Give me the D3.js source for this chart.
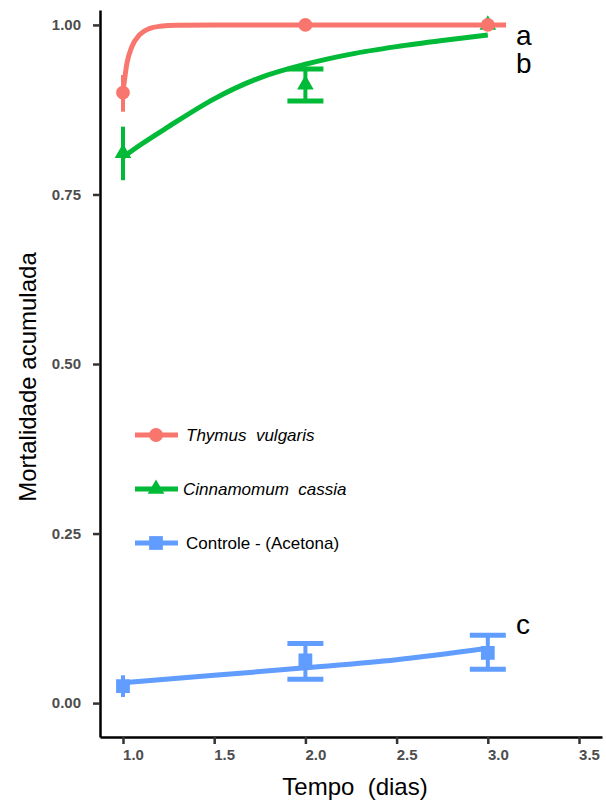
<!DOCTYPE html>
<html>
<head>
<meta charset="utf-8">
<script src="https://cdn.jsdelivr.net/npm/d3@7"></script>
<style>
	body { margin: 0; background: #fff; }
	svg { display: block; font-family: "Liberation Sans", Arial, sans-serif; }
</style>
</head>
<body>
<script>
//observed days
let days = [1, 2, 3];

//means and error bar limits
let thymusMean = [0.900, 1.000, 1.000];
let thymusLow = [0.872, 1.000, 1.000];
let thymusHigh = [0.926, 1.000, 1.000];

let cinnMean = [0.811, 0.912, 1.000];
let cinnLow = [0.771, 0.888, 1.000];
let cinnHigh = [0.850, 0.935, 1.000];

let ctrlMean = [0.025, 0.063, 0.074];
let ctrlLow = [0.009, 0.035, 0.050];
let ctrlHigh = [0.041, 0.088, 0.100];

//fitted curves, points
let thymusFitX = [1.0, 1.022, 1.049, 1.093, 1.148, 1.203, 1.30, 1.5, 2.0, 2.5, 3.0, 3.1];
let thymusFitY = [0.901, 0.944, 0.968, 0.986, 0.995, 0.998, 0.9995, 1, 1, 1, 1, 1];

let cinnFitX = [1.0, 1.1, 1.25, 1.5, 1.75, 2.0, 2.25, 2.5, 2.75, 3.0];
let cinnFitY = [0.805, 0.824, 0.850, 0.891, 0.922, 0.942, 0.957, 0.968, 0.977, 0.985];

let ctrlFitX = [1.0, 1.5, 2.0, 2.5, 3.0];
let ctrlFitY = [0.030, 0.041, 0.052, 0.064, 0.081];

//axis ticks and labels
let xTicks = [1.0, 1.5, 2.0, 2.5, 3.0, 3.5];
let yTicks = [0, 0.25, 0.5, 0.75, 1];
let seriesNames = ["Thymus  vulgaris", "Cinnamomum  cassia", "Controle - (Acetona)"];
let groupLetters = ["a", "b", "c"];

let width = 606;
let height = 808;

let svg = d3.select("body").append("svg")
	.attr("width", width)
	.attr("height", height);

let x = d3.scaleLinear()
	.domain([0.874, 3.626])
	.range([100, 602]);

let y = d3.scaleLinear()
	.domain([-0.05, 1.022])
	.range([737, 10]);

/*
	AXES
*/

let xAxis = d3.axisBottom(x)
	.tickValues(xTicks)
	.tickFormat(d3.format(".1f"))
	.tickSize(7)
	.tickSizeOuter(0)
	.tickPadding(5);

let yAxis = d3.axisLeft(y)
	.tickValues(yTicks)
	.tickFormat(d3.format(".2f"))
	.tickSize(7)
	.tickSizeOuter(0)
	.tickPadding(12);

let xG = svg.append("g")
	.attr("transform", "translate(0, 737)")
	.call(xAxis);

let yG = svg.append("g")
	.attr("transform", "translate(100, 0)")
	.call(yAxis);

[xG, yG].forEach(g => {
	g.select(".domain").attr("stroke", "#000").attr("stroke-width", 2.5);
	g.selectAll(".tick line").attr("stroke", "#333").attr("stroke-width", 2.5);
	g.selectAll(".tick text")
		.attr("font-family", "Liberation Sans, Arial, sans-serif")
		.attr("font-size", 15)
		.attr("font-weight", "bold")
		.attr("fill", "#4d4d4d");
});
xG.selectAll(".tick text").attr("dx", 10);

svg.append("text")
	.attr("x", 355)
	.attr("y", 795)
	.attr("text-anchor", "middle")
	.attr("font-size", 24)
	.attr("fill", "#000")
	.attr("xml:space", "preserve")
	.text("Tempo  (dias)");

svg.append("text")
	.attr("transform", "translate(36, 377) rotate(-90)")
	.attr("text-anchor", "middle")
	.attr("font-size", 24)
	.attr("fill", "#000")
	.text("Mortalidade acumulada");

/*
	SERIES
*/

let series = [
	{name: seriesNames[1], color: "#00BA38", shape: d3.symbolTriangle, size: 120,
		mean: cinnMean, low: cinnLow, high: cinnHigh, fitX: cinnFitX, fitY: cinnFitY},
	{name: seriesNames[2], color: "#619CFF", shape: d3.symbolSquare, size: 190,
		mean: ctrlMean, low: ctrlLow, high: ctrlHigh, fitX: ctrlFitX, fitY: ctrlFitY},
	{name: seriesNames[0], color: "#F8766D", shape: d3.symbolCircle, size: 150,
		mean: thymusMean, low: thymusLow, high: thymusHigh, fitX: thymusFitX, fitY: thymusFitY}
];

let line = d3.line()
	.x(d => x(d[0]))
	.y(d => y(d[1]))
	.curve(d3.curveMonotoneX);

let capHalf = 18;

series.forEach(s => {
	let g = svg.append("g");

	g.append("path")
		.datum(s.fitX.map((v, i) => [v, s.fitY[i]]))
		.attr("fill", "none")
		.attr("stroke", s.color)
		.attr("stroke-width", 5)
		.attr("stroke-linecap", "butt")
		.attr("d", line);

	days.forEach((d, i) => {
		if (s.low[i] === s.high[i]) return;
		g.append("line")
			.attr("x1", x(d)).attr("x2", x(d))
			.attr("y1", y(s.low[i])).attr("y2", y(s.high[i]))
			.attr("stroke", s.color)
			.attr("stroke-width", 4);
		if (i > 0) { //first day has no caps in the picture
			[s.low[i], s.high[i]].forEach(v => {
				g.append("line")
					.attr("x1", x(d) - capHalf).attr("x2", x(d) + capHalf)
					.attr("y1", y(v)).attr("y2", y(v))
					.attr("stroke", s.color)
					.attr("stroke-width", 5);
			});
		}
	});

	g.selectAll(".pt")
		.data(days)
		.join("path")
		.attr("transform", (d, i) => `translate(${x(d)}, ${y(s.mean[i])})`)
		.attr("d", d3.symbol().type(s.shape).size(s.size))
		.attr("fill", s.color);
});

/*
	LETTERS
*/

let letterBase = [45, 73, 634];
groupLetters.forEach((t, i) => {
	svg.append("text")
		.attr("x", 516)
		.attr("y", letterBase[i])
		.attr("font-size", 28)
		.attr("fill", "#000")
		.text(t);
});

/*
	LEGEND
*/

let legendOrder = [series[2], series[0], series[1]];
let legend = svg.append("g")
	.attr("transform", "translate(135, 435)");

legendOrder.forEach((s, i) => {
	let row = legend.append("g")
		.attr("transform", `translate(0, ${i * 54})`);
	row.append("line")
		.attr("x1", 0).attr("x2", 43)
		.attr("stroke", s.color)
		.attr("stroke-width", 5);
	row.append("path")
		.attr("transform", "translate(21, 0)")
		.attr("d", d3.symbol().type(s.shape).size(s.size))
		.attr("fill", s.color);
	row.append("text")
		.attr("x", i === 1 ? 48 : 51)
		.attr("y", 6)
		.attr("font-size", 17)
		.attr("font-style", i < 2 ? "italic" : "normal")
		.attr("fill", "#000")
		.attr("xml:space", "preserve")
		.text(s.name);
});
</script>
</body>
</html>
